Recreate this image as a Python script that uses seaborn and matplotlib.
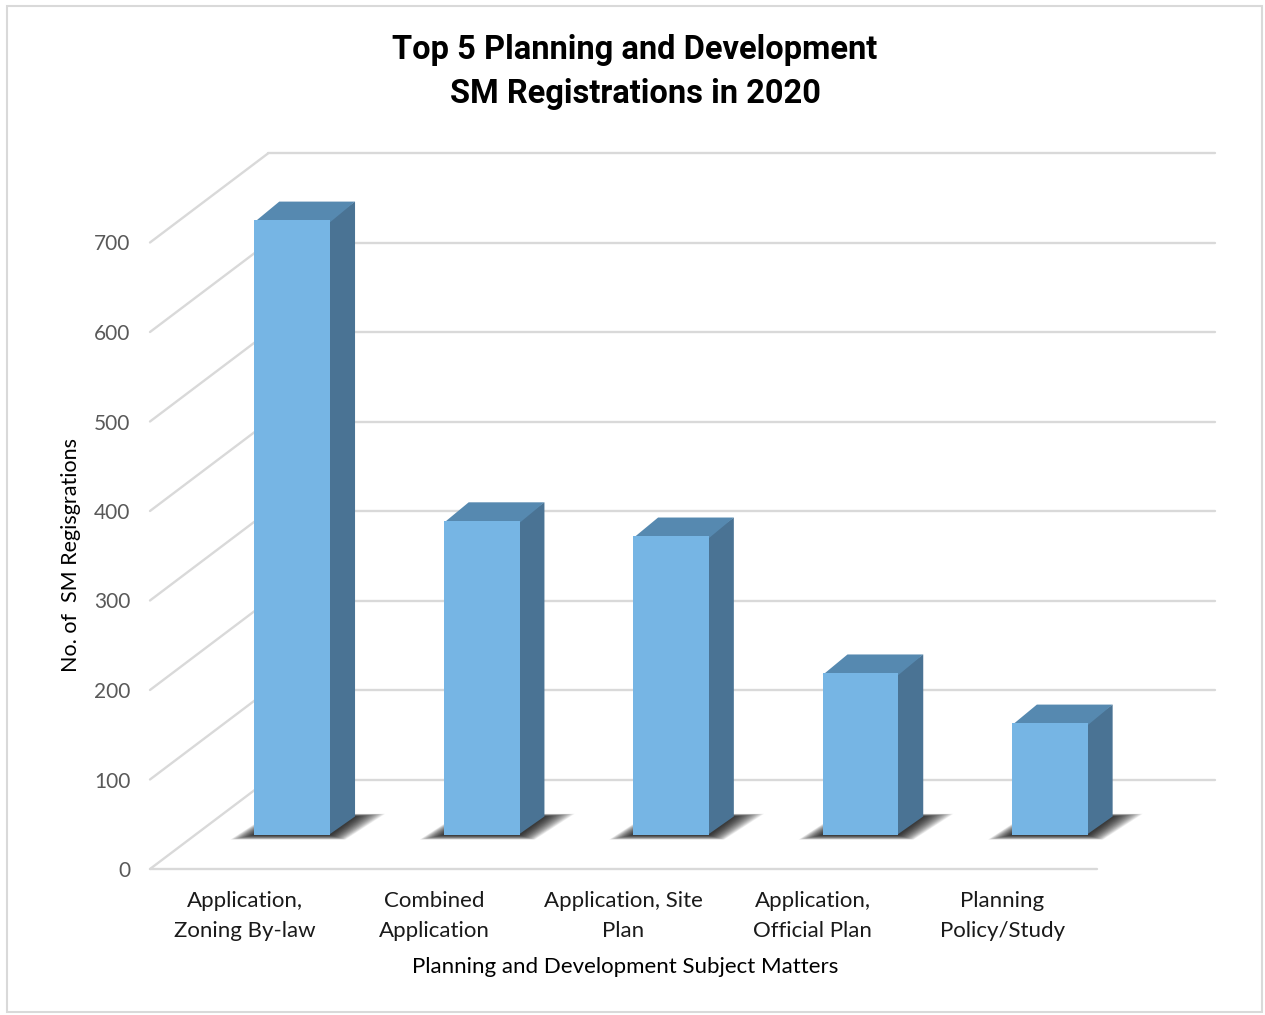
import matplotlib
matplotlib.use("Agg")
import matplotlib.pyplot as plt
from matplotlib.patches import Polygon, Rectangle
import seaborn as sns

categories = ["Application,\nZoning By-law", "Combined\nApplication",
              "Application, Site\nPlan", "Application,\nOfficial Plan",
              "Planning\nPolicy/Study"]
registrations = [687, 351, 334, 181, 125]
y_ticks = [0, 100, 200, 300, 400, 500, 600, 700]

front_col = "#76B5E4"
top_col = "#5689B0"
side_col = "#4A7394"
grid_col = "#D9D9D9"

sns.set_style("white")
plt.rcParams["font.family"] = ["Lato", "DejaVu Sans"]

W, H = 1265, 1015
fig = plt.figure(figsize=(W / 100, H / 100), dpi=100)
ax = fig.add_axes([150 / W, 146 / H, 1065 / W, 716 / H])

# pseudo-3D depth offset (category units, value units)
DX, DY = 0.623, 99.5
D0, DD = 0.38, 0.21   # bar front depth, bar thickness
SHIFT = 0.015         # small sideways nudge of the bars

sns.barplot(x=categories, y=registrations, color=front_col, saturation=1,
            width=0.4, ax=ax, zorder=6, linewidth=0)

ax.set_xlim(-0.5, 5.123)
ax.set_ylim(0, 800)

# back wall gridlines and side wall diagonals
for v in y_ticks:
    ax.plot([-0.5 + DX, 5.123], [v + DY, v + DY], color=grid_col, lw=1.7,
            zorder=1, clip_on=False, solid_capstyle="round")
    ax.plot([-0.5, -0.5 + DX], [v, v + DY], color=grid_col, lw=1.7,
            zorder=1, clip_on=False, solid_capstyle="round")
ax.plot([-0.5, 4.5], [0, 0], color=grid_col, lw=1.7, zorder=1, clip_on=False)

for p in ax.patches[:len(categories)]:
    xl = p.get_x() + D0 * DX + SHIFT
    w = p.get_width()
    h = p.get_height()
    y0 = D0 * DY
    p.set_x(xl)
    p.set_y(y0)
    xr = xl + w
    ox, oy = DD * DX, DD * DY
    # soft shadow on the floor
    n = 26
    for i in range(n):
        f = 1 - i / n
        m = 0.16 * f
        my = 10 * f
        shp = [(xl - m * 0.8, y0 - my * 0.5), (xr + m * 0.5, y0 - my * 0.5),
               (xr + ox + m, y0 + oy + my * 0.3), (xl + ox - m * 0.3, y0 + oy + my * 0.3)]
        ax.add_patch(Polygon(shp, closed=True, facecolor="black", alpha=0.05,
                             lw=0, zorder=3))
    ax.add_patch(Polygon([(xr - 0.01, y0), (xr + ox, y0 + oy), (xr + ox, y0 + h + oy),
                          (xr - 0.01, y0 + h)], closed=True, facecolor=side_col,
                         lw=0, zorder=5))
    yt = y0 + h
    ax.add_patch(Polygon([(xl, yt - 2), (xr, yt - 2), (xr + ox, yt + oy),
                          (xl + ox, yt + oy)], closed=True, facecolor=top_col,
                         lw=0, zorder=5))

sns.despine(ax=ax, left=True, bottom=True)
ax.set_yticks(y_ticks)
ax.set_yticklabels([str(v) for v in y_ticks], color="#595959", fontsize=15)
ax.set_xticks(range(len(categories)))
ax.set_xticklabels(categories, fontsize=16, color="#1a1a1a", linespacing=1.6)
ax.tick_params(axis="y", length=0, pad=14)
ax.tick_params(axis="x", length=0, pad=16)
ax.set_xlabel("")
ax.set_ylabel("")

fig.text(71 / W, 1 - 555 / H, "No. of  SM Regisgrations", rotation=90,
         ha="center", va="center", fontsize=15.5, color="black")
fig.text(625 / W, 1 - 967 / H, "Planning and Development Subject Matters",
         ha="center", va="center", fontsize=16, color="black")
fig.text(635 / W, 1 - 72 / H,
         "Top 5 Planning and Development\nSM Registrations in 2020",
         ha="center", va="center", fontsize=23.5, fontweight="bold",
         family=["Roboto", "DejaVu Sans"], linespacing=1.45, color="black")

fig.patches.append(Rectangle((7 / W, 1 - 1012 / H), 1255 / W, 1006 / H,
                             transform=fig.transFigure, fill=False,
                             edgecolor=grid_col, lw=1.5))

fig.savefig("out.png", dpi=100)
